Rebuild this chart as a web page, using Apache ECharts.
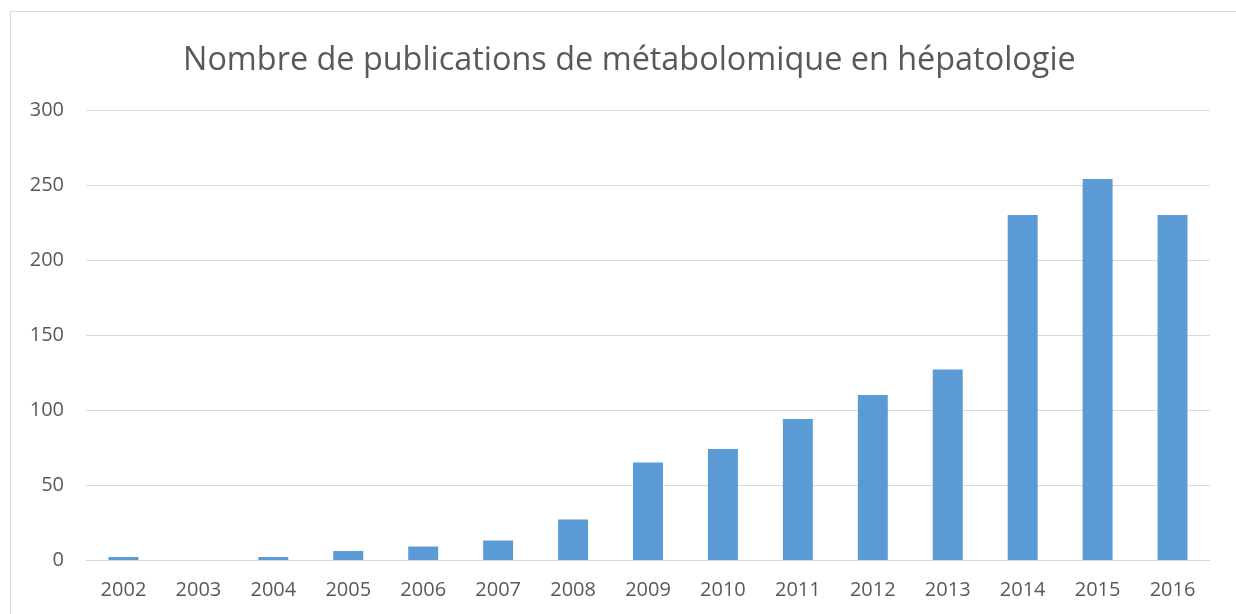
<!DOCTYPE html>
<html>
<head>
<meta charset="utf-8">
<title>Publications métabolomique</title>
<script src="https://cdn.jsdelivr.net/npm/echarts@6/dist/echarts.min.js"></script>
<style>
	html, body { margin: 0; padding: 0; background: #fff; }
	#frame { position: absolute; left: 10px; top: 11px; width: 1300px; height: 700px;
		border-top: 1px solid #d9d9d9; border-left: 1px solid #d9d9d9; }
	#main { position: absolute; left: 0; top: 0; width: 1236px; height: 614px; }
</style>
</head>
<body>
	<div id="frame"></div>
	<div id="main"></div>
	<script>
		// données
		var years = ['2002', '2003', '2004', '2005', '2006', '2007', '2008', '2009',
			'2010', '2011', '2012', '2013', '2014', '2015', '2016'];
		var counts = [2, 0, 2, 6, 9, 13, 27, 65, 74, 94, 110, 127, 230, 254, 230];
		var yTicks = [0, 50, 100, 150, 200, 250, 300];

		var chart = echarts.init(document.getElementById('main'));
		var option = {
			animation: false,
			title: {
				text: 'Nombre de publications de métabolomique en hépatologie',
				left: 178,
				top: 40,
				textStyle: {
					fontFamily: 'Open Sans',
					fontWeight: 'normal',
					fontSize: 32.4,
					color: '#595959'
				}
			},
			grid: { left: 86, right: 26, top: 110, bottom: 54 },
			xAxis: {
				type: 'category',
				data: years,
				axisLine: { lineStyle: { color: '#d9d9d9', width: 1 } },
				axisTick: { show: false },
				axisLabel: {
					fontFamily: 'Open Sans',
					fontSize: 20,
					color: '#595959',
					margin: 20
				}
			},
			yAxis: {
				type: 'value',
				min: yTicks[0],
				max: yTicks[yTicks.length - 1],
				interval: 50,
				axisLine: { show: false },
				axisTick: { show: false },
				splitLine: { lineStyle: { color: '#d9d9d9', width: 1 } },
				axisLabel: {
					fontFamily: 'Open Sans',
					fontSize: 20,
					color: '#595959',
					margin: 22
				}
			},
			series: [{
				type: 'bar',
				data: counts,
				barWidth: '40%',
				itemStyle: { color: '#5b9bd5' }
			}]
		};
		chart.setOption(option);
	</script>
</body>
</html>
